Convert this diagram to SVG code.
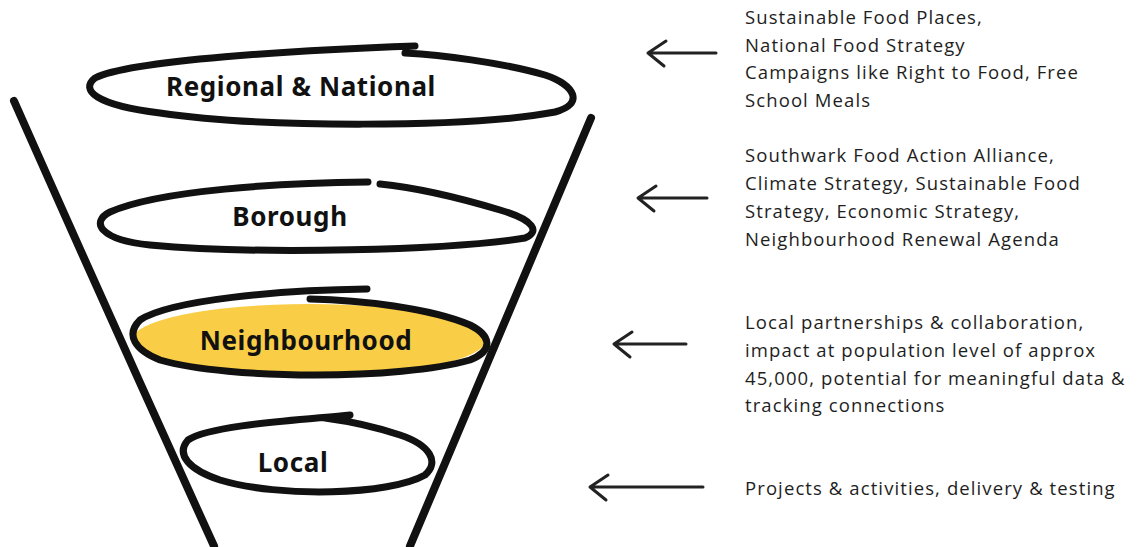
<svg xmlns="http://www.w3.org/2000/svg" width="1137" height="547" viewBox="0 0 1137 547">
<style>
.stroke{fill:none;stroke:#111;stroke-width:7;stroke-linecap:round;stroke-linejoin:round}
.funnel{fill:none;stroke:#111;stroke-width:8;stroke-linecap:round}
.arrow{fill:none;stroke:#222;stroke-width:3;stroke-linecap:round;stroke-linejoin:round}
.lbl{font-family:"Noto Sans","Liberation Sans",sans-serif;font-weight:bold;font-size:26px;letter-spacing:0.6px;fill:#111;text-anchor:middle}
.desc{font-family:"Open Sans","Liberation Sans",sans-serif;font-size:18.5px;letter-spacing:1.1px;fill:#1e1e1e}
</style>
<rect width="1137" height="547" fill="#fff"/>
<g id="funnel">
<path class="funnel" d="M14 101 Q 112 322 214 546"/>
<path class="funnel" d="M591 118 Q 500 332 410 546"/>
</g>
<g id="regional">
<path class="stroke" d="M415 46 C300 50 130 60 95 78 C80 90 95 105 160 113 C260 128 470 128 555 112 C585 104 575 85 545 75 C500 62 440 55 405 53"/>
<text class="lbl" x="301" y="96">Regional &amp; National</text>
</g>
<g id="borough">
<path class="stroke" d="M368 182 C280 183 160 190 110 212 C90 222 100 240 150 245 C260 255 450 250 525 238 C540 232 535 220 500 210 C460 198 420 188 380 184"/>
<text class="lbl" x="290" y="226">Borough</text>
</g>
<g id="neighbourhood">
<ellipse cx="309" cy="340" rx="177" ry="36" fill="#F9CD45"/>
<path class="stroke" d="M367 289 C280 290 170 300 140 320 C125 335 135 350 160 360 C230 380 400 380 470 360 C495 350 490 335 470 325 C430 308 360 300 310 299"/>
<text class="lbl" x="306" y="350">Neighbourhood</text>
</g>
<g id="local">
<path class="stroke" d="M350 415 C300 420 210 425 188 440 C175 455 190 470 220 480 C280 498 390 495 425 475 C440 462 430 445 400 435 C370 425 340 420 325 418"/>
<text class="lbl" x="293" y="472">Local</text>
</g>
<g id="connectors">
<path class="arrow" d="M716 53 L648 53 M666 41 L648 53 L664 66"/>
<path class="arrow" d="M707 198 L638 198 M656 186 L638 198 L654 211"/>
<path class="arrow" d="M686 344 L614 344 M632 332 L614 344 L630 357"/>
<path class="arrow" d="M703 487 L590 487 M608 475 L590 487 L606 500"/>
</g>
<g id="desc1" class="desc">
<text x="745" y="24">Sustainable Food Places,</text>
<text x="745" y="52">National Food Strategy</text>
<text x="745" y="79">Campaigns like Right to Food, Free</text>
<text x="745" y="107">School Meals</text>
</g>
<g id="desc2" class="desc">
<text x="745" y="162">Southwark Food Action Alliance,</text>
<text x="745" y="190">Climate Strategy, Sustainable Food</text>
<text x="745" y="218">Strategy, Economic Strategy,</text>
<text x="745" y="246">Neighbourhood Renewal Agenda</text>
</g>
<g id="desc3" class="desc">
<text x="745" y="329">Local partnerships &amp; collaboration,</text>
<text x="745" y="357">impact at population level of approx</text>
<text x="745" y="385">45,000, potential for meaningful data &amp;</text>
<text x="745" y="412">tracking connections</text>
</g>
<g id="desc4" class="desc">
<text x="745" y="495">Projects &amp; activities, delivery &amp; testing</text>
</g>
</svg>
